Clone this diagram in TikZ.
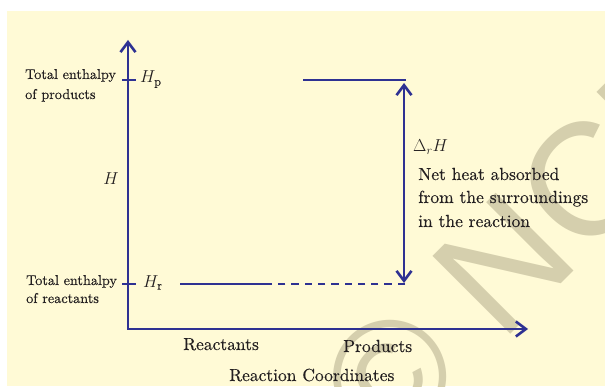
\documentclass[tikz,border=0pt]{standalone}
\usepackage{fontspec}
\setmainfont{lmroman10-regular.otf}[ItalicFont=lmroman10-italic.otf,FakeBold=0.3]
\newfontfamily\wmfont{Liberation Sans}
\usetikzlibrary{arrows.meta}
\definecolor{cream}{HTML}{FFFAD6}
\definecolor{navy}{HTML}{2E3192}
\definecolor{ink}{HTML}{231F20}
\definecolor{wmcol}{HTML}{D5CFAD}
\tikzset{barbtip/.tip={Straight Barb[length=10pt,width=15pt]}}
\begin{document}
\begin{tikzpicture}[x=1pt,y=1pt,
  axis/.style={navy,line width=2.6pt},
  lbl/.style={inner sep=0pt,text=ink,font=\fontsize{14.2}{17}\selectfont,anchor=base west},
  txt/.style={inner sep=0pt,text=ink,font=\fontsize{17.5}{21}\selectfont,anchor=base west}]
\useasboundingbox (0,0) rectangle (605,386);
\fill[white] (0,0) rectangle (605,386);
\fill[cream] (7,0) rectangle (605,375);
\begin{scope}
\clip (7,0) rectangle (605,375);
\node[text=wmcol, rotate=45, anchor=base west, inner sep=0pt, font=\wmfont\fontsize{160}{160}\selectfont] (wmark) at (387,-72) {© NCERT};
\end{scope}
% axes
\coordinate (O) at (128,57);
\coordinate (ytip) at (128,346);
\coordinate (xtip) at (528,57);
\draw[axis, barbtip-barbtip] (ytip) -- (O) -- (xtip);
% ticks
\coordinate (tpa) at (122,306);
\coordinate (tpb) at (136,306);
\coordinate (tra) at (122,102);
\coordinate (trb) at (136,102);
\draw[axis] (tpa) -- (tpb);
\draw[axis] (tra) -- (trb);
% levels
\coordinate (pa) at (303,306);
\coordinate (pb) at (406,306);
\coordinate (ra) at (180,102);
\coordinate (rb) at (270,102);
\coordinate (rc) at (405,102);
\draw[axis] (pa) -- (pb);
\draw[axis] (ra) -- (rb);
\draw[axis, dash pattern=on 7.3pt off 6pt] (rc) -- (rb);
% double arrow
\coordinate (da) at (404,303);
\coordinate (db) at (404,103);
\draw[axis, barbtip-barbtip] (db) -- (da);
% labels
\node[lbl] (tp1) at (25,307) {Total enthalpy};
\node[lbl] (tp2) at (25,287) {of products};
\node[lbl] (tr1) at (26,101) {Total enthalpy};
\node[lbl] (tr2) at (26,83) {of reactants};
\node[txt] (hp) at (140,303) {$H_{\mathrm{p}}$};
\node[txt] (hr) at (143,99) {$H_{\mathrm{r}}$};
\node[txt, anchor=center] (hax) at (111,207) {$H$};
\node[txt] (drh) at (413,234) {$\Delta_r H$};
\node[txt] (n1) at (418,206) {Net heat absorbed};
\node[txt] (n2) at (418,183) {from the surroundings};
\node[txt] (n3) at (418,159) {in the reaction};
\node[txt] (reac) at (183,36) {Reactants};
\node[txt] (prod) at (343,34) {Products};
\node[txt] (rcl) at (229,5) {Reaction Coordinates};
\end{tikzpicture}
\end{document}
